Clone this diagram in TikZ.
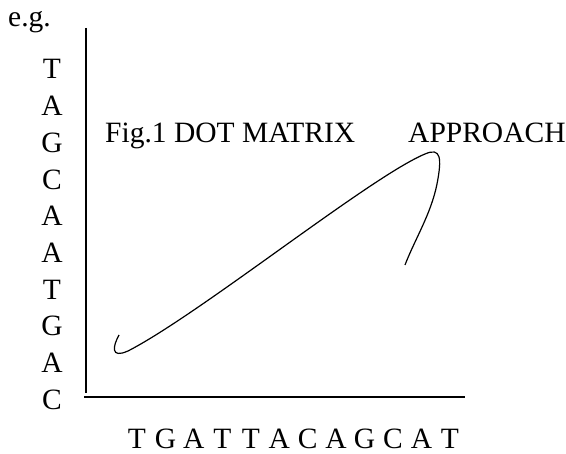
\documentclass[tikz,border=0pt]{standalone}
\usepackage{fontspec}
\setmainfont{Liberation Serif}
\usepackage{tikz}
\usetikzlibrary{arrows.meta, positioning, calc}

\tikzset{
    base/.style={font=\fontsize{29.5}{32}\selectfont, inner sep=0pt, anchor=base},
    axis/.style={line width=1.1pt},
    trace/.style={line width=1.2pt}
}

\begin{document}
\begin{tikzpicture}[>=Stealth, x=1pt, y=1pt]
            \useasboundingbox (0,0) rectangle (566,454);

            \node[base, anchor=base west] (eg) at (8,427) {e.g.};

            % sequence along the vertical axis
            \foreach \b [count=\i] in {T,A,G,C,A,A,T,G,A,C}
                \node[base] (v\i) at (52,{375-36.7*(\i-1)}) {\b};

            % sequence along the horizontal axis
            \foreach \b [count=\i] in {T,G,A,T,T,A,C,A,G,C,A,T}
                \node[base] (h\i) at ({137+28.45*(\i-1)},5) {\b};

            \coordinate (ytop) at (86,426);
            \coordinate (ybot) at (86,61);
            \coordinate (xleft) at (84,57);
            \coordinate (xright) at (465,57);

            \draw[axis] (ytop) -- (ybot);
            \draw[axis, line width=1.5pt] (xleft) -- (xright);

            \node[base, anchor=base west] (title) at (105,311) {Fig.1 DOT MATRIX};
            \node[base, anchor=base west] (approach) at (408,311) {APPROACH};

            % the diagonal trace
            \draw[trace] (119,119) .. controls (113,108) and (110,95) .. (128,103)
                .. controls (200,140) and (370,277) .. (425,300)
                .. controls (441,307) and (442,296) .. (437,270)
                .. controls (431,240) and (415,215) .. (405,189);
        \end{tikzpicture}
\end{document}
